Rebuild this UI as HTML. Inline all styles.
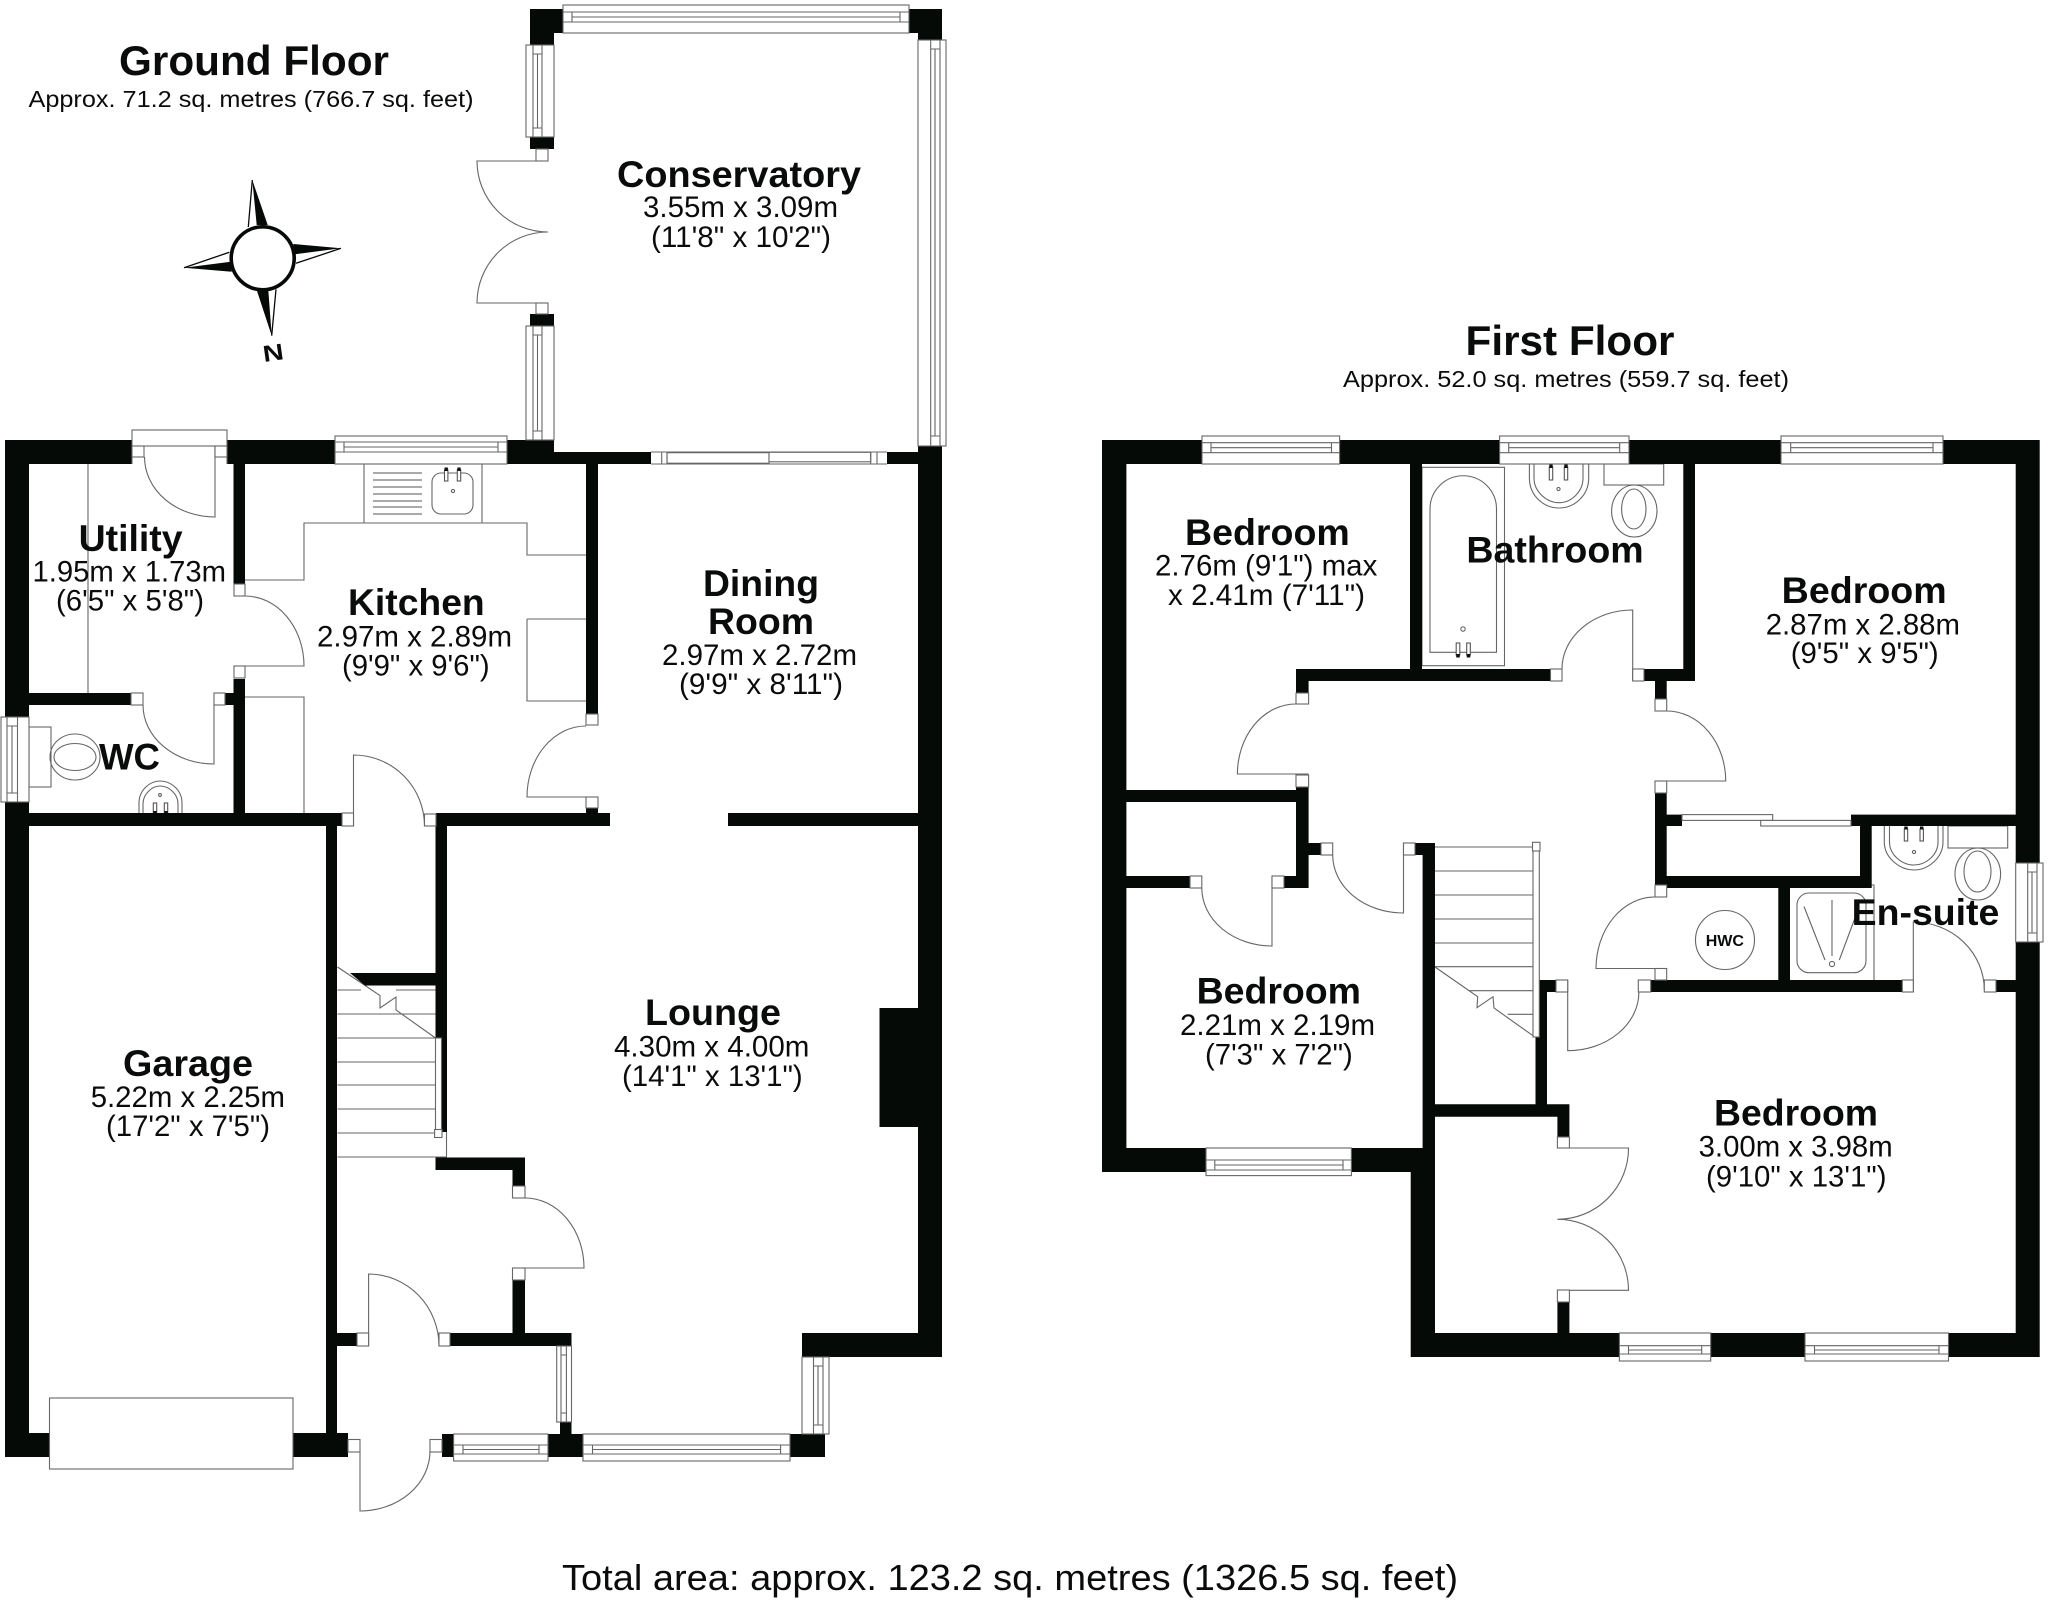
<!DOCTYPE html>
<html>
<head>
<meta charset="utf-8">
<title>Floor plan</title>
<style>
html,body{margin:0;padding:0;background:#fff}
svg{display:block}
text{font-family:"Liberation Sans",Arial,sans-serif;fill:#0a0c0b}
.b{font-weight:bold;font-size:37px}
.n{font-size:29.5px}
</style>
</head>
<body>
<svg xmlns="http://www.w3.org/2000/svg" width="2048" height="1605" viewBox="0 0 2048 1605">
<rect width="2048" height="1605" fill="#fff"/>

<!-- fittings and thin lines -->
<g fill="none" stroke="#666" stroke-width="1.1">
<!-- utility, kitchen -->
<path d="M88 464V693M364 464V523M482 464V523M245 580H304V523H527V555H586M527 619H586M527 619V701H586M245 697H304V813"/>
<path d="M373 473H422M373 480H422M373 487H422M373 494H422M373 501H422M373 507H422M373 514H422" stroke="#555"/>
<rect x="432" y="473" width="41" height="41" rx="9"/>
<circle cx="453" cy="491" r="1.6"/>
<!-- WC -->
<rect x="29" y="727" width="22" height="60" fill="#fff"/>
<ellipse cx="75" cy="757" rx="25" ry="23"/>
<ellipse cx="75" cy="757" rx="21" ry="13.5"/>
<path d="M139 813V803C139 790 150 781 160 781C171 781 182 790 182 803V813M143 813V804C143 794 152 786 160 786C169 786 178 794 178 804V813"/>
<circle cx="160" cy="795" r="1.4"/>
<!-- ground stairs -->
<path d="M337.5 990H361M396 990H435.5M337.5 1014H396M337.5 1014H435.5M337.5 1038H435.5M337.5 1062H435.5M337.5 1085H435.5M337.5 1109H435.5M337.5 1133H435.5M337.5 1157H447M446.5 1132V1157"/>
<path d="M337.5 967L380 995.5V1008L396 997V1010L435.5 1038"/>
<!-- first floor stairs -->
<path d="M1435 847H1533M1435 871H1533M1435 895H1533M1435 919H1533M1435 943H1533M1435 966.7H1533M1469 990.7H1533M1507.6 1014.3H1533"/>
<path d="M1435 967L1477.7 996.7L1477 1007.7L1493 996.7L1494 1008L1534.4 1036.7"/>
<!-- bathroom -->
<rect x="1422" y="467.3" width="82.5" height="198.4"/>
<path d="M1430 652.3V509A33.2 33.2 0 0 1 1496.5 509V652.3Z"/>
<circle cx="1463" cy="629" r="2.2"/>
<path d="M1529.4 464V478C1529.4 496 1544 508 1559 508C1574 508 1588.7 496 1588.7 478V464M1534 464V478C1534 492 1547 502.7 1559 502.7C1571 502.7 1583 492 1583 478V464"/>
<circle cx="1558.5" cy="489" r="1.6"/>
<rect x="1604" y="464" width="59.7" height="21" fill="#fff"/>
<ellipse cx="1634.3" cy="511" rx="22.7" ry="26"/>
<ellipse cx="1633.8" cy="509" rx="12.2" ry="20"/>
<!-- ensuite -->
<path d="M1884.3 826V842C1884.3 858 1900 870 1914 870C1928 870 1943 858 1943 842V826M1889.5 826V842C1889.5 855 1902 865 1914 865C1926 865 1938 855 1938 842V826"/>
<circle cx="1914" cy="852" r="1.6"/>
<rect x="1948" y="826" width="59.7" height="22" fill="#fff"/>
<ellipse cx="1977.8" cy="874" rx="22.8" ry="26"/>
<ellipse cx="1977.5" cy="871.5" rx="13.5" ry="20.5"/>
<path d="M1790 885H1874V980"/>
<rect x="1797" y="893" width="69" height="79.7" rx="12"/>
<path d="M1832 900V956M1804 906.5L1825 960M1859.3 906.5L1839.3 960"/>
<circle cx="1832" cy="964" r="2.6"/>
<circle cx="1725" cy="940" r="29.5"/>
<!-- taps -->
<g fill="#fff" stroke="#555">
<rect x="444.5" y="470" width="3.4" height="11"/><rect x="457.3" y="470" width="3.4" height="11"/>
<rect x="153.3" y="803" width="3.4" height="10"/><rect x="164.3" y="803" width="3.4" height="10"/>
<rect x="1456.2" y="643" width="3.6" height="12"/><rect x="1466.7" y="643" width="3.6" height="12"/>
<rect x="1549.3" y="467" width="3.4" height="13"/><rect x="1564.3" y="467" width="3.4" height="13"/>
<rect x="1904.3" y="829" width="3.4" height="12"/><rect x="1920" y="829" width="3.4" height="12"/>
</g>
<g fill="#111" stroke="none">
<rect x="444.5" y="467.5" width="3.4" height="3.5"/><rect x="457.3" y="467.5" width="3.4" height="3.5"/>
<rect x="153.3" y="811" width="3.4" height="3"/><rect x="164.3" y="811" width="3.4" height="3"/>
<rect x="1456.2" y="654" width="3.6" height="3.5"/><rect x="1466.7" y="654" width="3.6" height="3.5"/>
<rect x="1549.3" y="464.5" width="3.4" height="3.5"/><rect x="1564.3" y="464.5" width="3.4" height="3.5"/>
<rect x="1904.3" y="826.5" width="3.4" height="3"/><rect x="1920" y="826.5" width="3.4" height="3"/>
</g>
<!-- door swings: ground floor -->
<path d="M144.5 457A70.5 60 0 0 0 215 517V446"/>
<path d="M245 596A59 70 0 0 1 304 666H234"/>
<path d="M143 705A71 59 0 0 0 214 764V705"/>
<path d="M586 726A59 71 0 0 0 527 797H598"/>
<path d="M353.5 826V755A71 71 0 0 1 424.5 826"/>
<path d="M525 1198A59 70 0 0 1 584 1268H512.5"/>
<path d="M368.6 1346V1274A70.5 72 0 0 1 439 1346"/>
<path d="M360 1452V1511A70 60 0 0 0 430 1451"/>
<path d="M548 161H477A71 71 0 0 0 548 232A71 71 0 0 0 477 303H548"/>
<!-- door swings: first floor -->
<path d="M1296 704A58.6 70 0 0 0 1237.4 774H1308.6"/>
<path d="M1562 669A70.7 59 0 0 1 1632.7 610V681"/>
<path d="M1666.7 711A59 70 0 0 1 1725.7 781H1655"/>
<path d="M1655 897A59 71.5 0 0 0 1596 968.5H1666.7"/>
<path d="M1332.7 855A70.8 58 0 0 0 1403.5 913V843"/>
<path d="M1201.8 888A70.2 58 0 0 0 1272 946V876"/>
<path d="M1638.9 992A71.2 58.7 0 0 1 1567.7 1050.7V980"/>
<path d="M1557.4 1148H1628.5A71 71 0 0 1 1557.4 1219.3A71 71 0 0 1 1628.5 1290.3H1557.4"/>
<path d="M1913.3 992V922A71 68 0 0 1 1984.3 990"/>
</g>

<!-- walls -->
<path fill="#050a07" d="
M5 440H132V464H29V717H5Z
M5 802H29V1433H49.5V1457H5Z
M227 440H335V464H227Z
M507 440H554V452H651V464H507Z
M887 452H918V446H942V1357H802V1333H918V826H728V813H918V464H887Z
M879.5 1008H919V1127H879.5Z
M436 813H610V826H447V1132H441.5V1038H435.5V826H436Z
M5 813H342V826H337V1433H348V1457H293V1433H326V826H5Z
M586 464H598V714H586Z
M586 808H598V814H586Z
M233.5 464H245V584H233.5Z
M233.5 679H245V813H233.5Z
M225 693H234V705H225Z
M29 693H131V705H29Z
M350 973H435.5V985.5H365Z
M435.5 1157.5H525V1186H512.5V1170H435.5Z
M512.5 1280H525V1333H571.5V1346H450V1333H512.5Z
M337 1333H357V1346H337Z
M442 1434H453.6V1457H442Z
M548 1434H560V1422H571.5V1434H583V1457H548Z
M790 1434H825V1457H790Z
M530 9H563V33H554V45H530Z
M909 9H942V40H918V33H909Z
M530 137H554V149H530Z
M530 314H554V326H530Z
M1102 440H1202V464H1126.4V1148H1206V1172H1102Z
M1339.6 440H1499.6V464H1422V669H1550.5V681H1308.6V693H1296V669H1410V464H1339.6Z
M1629 440H1781V464H1695V681H1666.7V699H1655V681H1644V669H1683.3V464H1629Z
M1943 440H2039.7V863H2015.7V464H1943Z
M2015.7 942H2039.7V1357H1948.5V1333H2015.7V992H1996V980H2015.7Z
M1351.4 1148H1422.6V843H1435V1104.3H1535.5V1037H1539V980H1556V992H1547V1104.3H1569.4V1137H1557.4V1116.7H1435V1333H1619.4V1357H1410.7V1172H1351.4Z
M1415 843H1435V855H1415Z
M1710.7 1333H1805V1357H1710.7Z
M1296 787H1308.6V888H1284V876H1296V802H1126V790H1296Z
M1126 876H1190V888H1126Z
M1308.6 843H1321V855H1308.6Z
M1655 793H1666.7V814.6H1682V826H1666.7V876H1860V826H1851V814.6H2015.7V826H1871.7V888H1790V980H1902.3V992H1650.7V980H1778.3V888H1655Z
M1557.4 1302H1569.4V1333H1557.4Z
"/>

<!-- windows, frames and door posts -->
<g fill="#fff" stroke="#666" stroke-width="1.1">
<rect x="132" y="430" width="95" height="16"/>
<path d="M132 446V464M227 446V464" fill="none"/>
<rect x="335" y="436" width="172" height="28"/>
<rect x="563" y="5" width="346" height="28"/>
<rect x="453.6" y="1434" width="94.4" height="27"/>
<rect x="583" y="1434" width="207" height="27"/>
<rect x="1202" y="436" width="137.6" height="28"/>
<rect x="1499.6" y="436" width="129.4" height="28"/>
<rect x="1781" y="436" width="162" height="28"/>
<rect x="1206" y="1148" width="145.4" height="27.6"/>
<rect x="1619.4" y="1333" width="91.3" height="28"/>
<rect x="1805" y="1333" width="143.5" height="28"/>
<rect x="1" y="717" width="28" height="85"/>
<rect x="526" y="45" width="28" height="92"/>
<rect x="526" y="326" width="28" height="114"/>
<rect x="918" y="40" width="28" height="406"/>
<rect x="556.7" y="1346" width="14.8" height="76"/>
<rect x="802" y="1357" width="27" height="77"/>
<rect x="2015.7" y="863" width="27.3" height="79"/>
<rect x="49.5" y="1398" width="243.5" height="71"/>
<rect x="667" y="452.7" width="102" height="10.5"/>
<rect x="769" y="452.3" width="101.7" height="9.5"/>
<rect x="435.5" y="1038" width="6" height="94"/>
<rect x="1533" y="847" width="6.3" height="190"/>
<rect x="1682" y="814.6" width="90.7" height="5.8"/>
<rect x="1760.7" y="820.4" width="90.3" height="5.6"/>
<rect x="132" y="446" width="12" height="11"/>
<rect x="215" y="446" width="12" height="11"/>
<rect x="234" y="584" width="11" height="12"/>
<rect x="234" y="666" width="11" height="12"/>
<rect x="131" y="693" width="12" height="12"/>
<rect x="214" y="693" width="11" height="12"/>
<rect x="586" y="714" width="12" height="11"/>
<rect x="586" y="797" width="12" height="11"/>
<rect x="342" y="813" width="11.5" height="13"/>
<rect x="424.5" y="814" width="11.5" height="12"/>
<rect x="512.5" y="1186" width="12.5" height="12"/>
<rect x="512.5" y="1268" width="12.5" height="12"/>
<rect x="357" y="1333" width="11.6" height="13"/>
<rect x="439" y="1333" width="11" height="13"/>
<rect x="348" y="1439.5" width="12" height="12.5"/>
<rect x="430" y="1439.5" width="12" height="12.5"/>
<rect x="536" y="149" width="12" height="12"/>
<rect x="536" y="303" width="12" height="11"/>
<rect x="434.6" y="1129.5" width="7.4" height="8"/>
<rect x="1296" y="693" width="12.6" height="11"/>
<rect x="1296" y="775" width="12.6" height="12"/>
<rect x="1550.5" y="669" width="11.5" height="12"/>
<rect x="1632.7" y="669" width="11.3" height="12"/>
<rect x="1655" y="699" width="11.7" height="12"/>
<rect x="1655" y="781" width="11.7" height="12"/>
<rect x="1190" y="876" width="11.8" height="12"/>
<rect x="1272" y="876" width="12" height="12"/>
<rect x="1321" y="843" width="11.7" height="12"/>
<rect x="1403.5" y="843" width="11.5" height="12"/>
<rect x="1532.5" y="842.3" width="7.5" height="8.7"/>
<rect x="1655" y="885" width="11.7" height="12"/>
<rect x="1655" y="968.5" width="11.7" height="11.5"/>
<rect x="1638.3" y="980" width="12.4" height="12"/>
<rect x="1556" y="980" width="11.7" height="12"/>
<rect x="1902.3" y="980" width="11" height="12"/>
<rect x="1984.3" y="980" width="11.7" height="12"/>
<rect x="1557.4" y="1137" width="12" height="11"/>
<rect x="1557.4" y="1290" width="12" height="12"/>
</g>
<path fill="none" stroke="#666" stroke-width="1.1" d="
M335 442H507M335 452H507M344 442V452M498 442V452M344 447H498
M563 12H909M563 22H909M572 12V22M900 12V22M572 17H900
M453.6 1445H548M453.6 1454H548M463 1445V1454M539 1445V1454M463 1449.5H539
M583 1445H790M583 1454H790M592.5 1445V1454M780.6 1445V1454M592.5 1449.5H780.6
M1202 442.7H1339.6M1202 452.7H1339.6M1211 442.7V452.7M1331.5 442.7V452.7M1211 447.7H1331.5
M1499.6 442.7H1629M1499.6 452.7H1629M1508.7 442.7V452.7M1619.7 442.7V452.7M1508.7 447.7H1619.7
M1781 442.7H1943M1781 452.7H1943M1790.7 442.7V452.7M1933 442.7V452.7M1790.7 447.7H1933
M1206 1160H1351.4M1206 1170H1351.4M1214.8 1160V1170M1343 1160V1170M1214.8 1165H1343
M1619.4 1345.7H1710.7M1619.4 1354H1710.7M1628.5 1345.7V1354M1701.7 1345.7V1354M1628.5 1350H1701.7
M1805 1345.7H1948.5M1805 1354H1948.5M1814.5 1345.7V1354M1939 1345.7V1354M1814.5 1350H1939
M7 717V802M17.5 717V802M7 726H17.5M7 793H17.5M12 726V793
M533 45V137M542 45V137M533 54H542M533 128H542M537.5 54V128
M533 326V440M542 326V440M533 335H542M533 431H542M537.5 335V431
M930.7 40V446M940 40V446M930.7 49H940M930.7 436H940M935 49V436
M561 1346V1422M566.4 1346V1422M561 1355H566.4M561 1413H566.4
M813.5 1357V1434M823 1357V1434M813.5 1366H823M813.5 1425H823M818 1366V1425
M2027.7 863V942M2037 863V942M2027.7 872H2037M2027.7 933H2037M2032 872V933
M651 452H887M651 464H887M661.7 452V464M667 452V464M870.7 452V464M877 452V464
"/>

<!-- compass -->
<g>
<polygon points="252.3,180 267.7,225 256.7,225" fill="#050a07"/>
<path d="M252.3 180L248.3 227" stroke="#050a07" stroke-width="1.3" fill="none"/>
<polygon points="341,248.3 293.3,244 295,254.3" fill="#050a07"/>
<path d="M341 248.3L296 263.3" stroke="#050a07" stroke-width="1.3" fill="none"/>
<polygon points="271.7,335.7 256.7,290 268.3,290" fill="#050a07"/>
<path d="M271.7 335.7L276 289.3" stroke="#050a07" stroke-width="1.3" fill="none"/>
<polygon points="184,267.7 231.7,271.7 230.7,261.7" fill="#050a07"/>
<path d="M184 267.7L229.3 252.3" stroke="#050a07" stroke-width="1.3" fill="none"/>
<circle cx="262.7" cy="258.3" r="31.5" fill="#fff" stroke="#050a07" stroke-width="3.6"/>
<text transform="translate(264,362) rotate(-8) scale(1.25,1)" font-size="23" font-weight="bold">N</text>
</g>

<!-- headings -->
<text class="b" style="font-size:42px" x="119" y="75" textLength="270" lengthAdjust="spacingAndGlyphs">Ground Floor</text>
<text style="font-size:23.5px" x="28.5" y="107" textLength="445" lengthAdjust="spacingAndGlyphs">Approx. 71.2 sq. metres (766.7 sq. feet)</text>
<text class="b" style="font-size:42px" x="1465.5" y="355" textLength="209" lengthAdjust="spacingAndGlyphs">First Floor</text>
<text style="font-size:23.5px" x="1343" y="387" textLength="446" lengthAdjust="spacingAndGlyphs">Approx. 52.0 sq. metres (559.7 sq. feet)</text>
<text style="font-size:36px" x="562" y="1590" textLength="896" lengthAdjust="spacingAndGlyphs">Total area: approx. 123.2 sq. metres (1326.5 sq. feet)</text>

<!-- ground floor labels -->
<text class="b" x="617" y="187" textLength="244" lengthAdjust="spacingAndGlyphs">Conservatory</text>
<text class="n" x="643" y="217" textLength="195" lengthAdjust="spacingAndGlyphs">3.55m x 3.09m</text>
<text class="n" x="651" y="247" textLength="180" lengthAdjust="spacingAndGlyphs">(11'8" x 10'2")</text>
<text class="b" x="78.6" y="551" textLength="104" lengthAdjust="spacingAndGlyphs">Utility</text>
<text class="n" x="32.5" y="581.7" textLength="193.5" lengthAdjust="spacingAndGlyphs">1.95m x 1.73m</text>
<text class="n" x="56" y="610.7" textLength="148" lengthAdjust="spacingAndGlyphs">(6'5" x 5'8")</text>
<text class="b" x="348" y="615" textLength="136.7" lengthAdjust="spacingAndGlyphs">Kitchen</text>
<text class="n" x="317" y="646.7" textLength="195" lengthAdjust="spacingAndGlyphs">2.97m x 2.89m</text>
<text class="n" x="342" y="675.7" textLength="147.6" lengthAdjust="spacingAndGlyphs">(9'9" x 9'6")</text>
<text class="b" x="99" y="769.3" textLength="61" lengthAdjust="spacingAndGlyphs">WC</text>
<text class="b" x="703" y="596" textLength="116" lengthAdjust="spacingAndGlyphs">Dining</text>
<text class="b" x="708" y="634" textLength="106" lengthAdjust="spacingAndGlyphs">Room</text>
<text class="n" x="662" y="665" textLength="195" lengthAdjust="spacingAndGlyphs">2.97m x 2.72m</text>
<text class="n" x="679" y="694" textLength="164" lengthAdjust="spacingAndGlyphs">(9'9" x 8'11")</text>
<text class="b" x="645" y="1025" textLength="136" lengthAdjust="spacingAndGlyphs">Lounge</text>
<text class="n" x="614" y="1056.5" textLength="195.4" lengthAdjust="spacingAndGlyphs">4.30m x 4.00m</text>
<text class="n" x="622" y="1086" textLength="180.7" lengthAdjust="spacingAndGlyphs">(14'1" x 13'1")</text>
<text class="b" x="123" y="1076" textLength="130" lengthAdjust="spacingAndGlyphs">Garage</text>
<text class="n" x="90.7" y="1107" textLength="194.3" lengthAdjust="spacingAndGlyphs">5.22m x 2.25m</text>
<text class="n" x="106" y="1136" textLength="164" lengthAdjust="spacingAndGlyphs">(17'2" x 7'5")</text>

<!-- first floor labels -->
<text class="b" x="1185" y="545" textLength="164.8" lengthAdjust="spacingAndGlyphs">Bedroom</text>
<text class="n" x="1155" y="575.7" textLength="222.3" lengthAdjust="spacingAndGlyphs">2.76m (9'1") max</text>
<text class="n" x="1168" y="605" textLength="197" lengthAdjust="spacingAndGlyphs">x 2.41m (7'11")</text>
<text class="b" x="1466.4" y="562.3" textLength="177.3" lengthAdjust="spacingAndGlyphs">Bathroom</text>
<text class="b" x="1781.7" y="603" textLength="165" lengthAdjust="spacingAndGlyphs">Bedroom</text>
<text class="n" x="1765.7" y="634.7" textLength="194.3" lengthAdjust="spacingAndGlyphs">2.87m x 2.88m</text>
<text class="n" x="1790.7" y="663" textLength="148" lengthAdjust="spacingAndGlyphs">(9'5" x 9'5")</text>
<text class="b" x="1851.7" y="925" textLength="147.6" lengthAdjust="spacingAndGlyphs">En-suite</text>
<text x="1705.7" y="946" style="font-size:16px;font-weight:bold" textLength="38.3" lengthAdjust="spacingAndGlyphs">HWC</text>
<text class="b" x="1196.6" y="1003.3" textLength="164.4" lengthAdjust="spacingAndGlyphs">Bedroom</text>
<text class="n" x="1180" y="1035" textLength="195" lengthAdjust="spacingAndGlyphs">2.21m x 2.19m</text>
<text class="n" x="1205" y="1064.3" textLength="147.8" lengthAdjust="spacingAndGlyphs">(7'3" x 7'2")</text>
<text class="b" x="1714" y="1125.7" textLength="164" lengthAdjust="spacingAndGlyphs">Bedroom</text>
<text class="n" x="1698.6" y="1156.7" textLength="194.1" lengthAdjust="spacingAndGlyphs">3.00m x 3.98m</text>
<text class="n" x="1706" y="1186.7" textLength="180.5" lengthAdjust="spacingAndGlyphs">(9'10" x 13'1")</text>
</svg>
</body>
</html>
